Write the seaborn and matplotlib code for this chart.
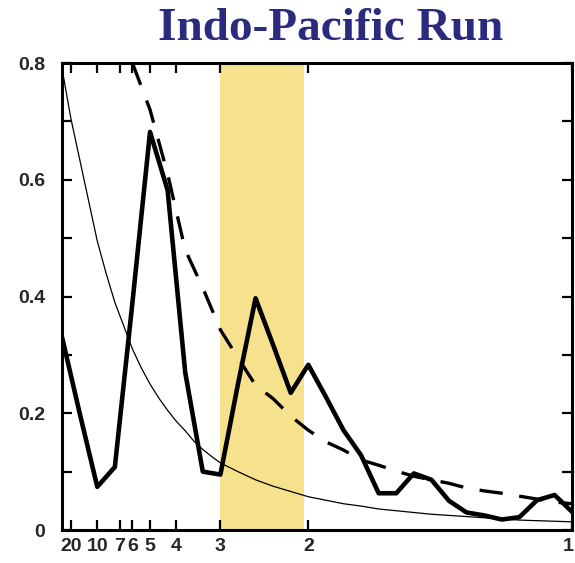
import numpy as np
import pandas as pd
import matplotlib
matplotlib.use("Agg")
import matplotlib.pyplot as plt
import matplotlib.transforms as mtransforms
import seaborn as sns

# Spectral frequency grid (cycles per year), 30 harmonics
freq = np.arange(1, 31) / 30

# Power spectrum of the index
power = [0.33, 0.20, 0.074, 0.108, 0.39, 0.682, 0.582, 0.27, 0.10, 0.095,
         0.25, 0.397, 0.317, 0.235, 0.283, 0.228, 0.171, 0.128, 0.063, 0.063,
         0.097, 0.086, 0.05, 0.03, 0.025, 0.018, 0.022, 0.051, 0.06, 0.031]

# Red-noise background spectrum (finer sampling at low frequencies)
red_freq = np.concatenate([np.arange(2, 21) / 60, np.arange(11, 31) / 30])
red_noise = [0.79, 0.705, 0.635, 0.565, 0.495, 0.44, 0.39, 0.35, 0.31, 0.278,
             0.25, 0.226, 0.205, 0.186, 0.17, 0.152, 0.138, 0.126, 0.115,
             0.10, 0.086, 0.075, 0.066, 0.057, 0.051, 0.045, 0.041, 0.036, 0.033,
             0.030, 0.027, 0.025, 0.023, 0.021, 0.019, 0.017, 0.016, 0.015, 0.014]

# Significance level (from the 5th harmonic on; above the frame before that)
signif_freq = freq[4:]
signif = [0.80, 0.72, 0.61, 0.48, 0.415, 0.343, 0.295, 0.248, 0.225, 0.195,
          0.171, 0.151, 0.137, 0.12, 0.111, 0.101, 0.092, 0.086, 0.08, 0.072,
          0.067, 0.063, 0.058, 0.053, 0.048, 0.045]

# Period axis labels (years) and the highlighted 2-3 year band
period_ticks = [20, 10, 7, 6, 5, 4, 3, 2, 1]
band_periods = (3.0, 2.03)
y_ticks = [0, 0.2, 0.4, 0.6, 0.8]
y_labels = ["0", "0.2", "0.4", "0.6", "0.8"]

sns.set_style("ticks")
plt.rcParams["font.family"] = ["Liberation Sans", "DejaVu Sans"]

fig = plt.figure(figsize=(5.75, 5.63), dpi=100)
ax = fig.add_axes([0.108, 0.0586, 0.887, 0.8294])

ax.axvspan(1 / band_periods[0], 1 / band_periods[1], color="#F6E18C", lw=0, zorder=0)

df_p = pd.DataFrame({"f": freq, "v": power})
df_r = pd.DataFrame({"f": red_freq, "v": red_noise})
df_s = pd.DataFrame({"f": signif_freq, "v": signif})

sns.lineplot(data=df_r, x="f", y="v", ax=ax, color="black", lw=0.9, zorder=2)
sns.lineplot(data=df_s, x="f", y="v", ax=ax, color="black", lw=2.4, zorder=3)
ax.lines[-1].set_dashes([7, 5])
sns.lineplot(data=df_p, x="f", y="v", ax=ax, color="black", lw=3.3, zorder=4)

ax.set_xlim(1 / 30, 1)
ax.set_ylim(0, 0.8)

tick_freq = [1 / p for p in period_ticks]
ax.set_xticks(tick_freq)
ax.set_xticklabels([str(p) for p in period_ticks], fontsize=14, fontweight="bold")
ax.set_yticks(y_ticks)
ax.set_yticklabels(y_labels, fontsize=14, fontweight="bold")
ax.set_yticks(np.arange(0.1, 0.8, 0.2), minor=True)

ax.tick_params(axis="both", which="both", direction="in", length=7, width=1.6,
               top=True, right=True, color="black")
ax.tick_params(axis="x", pad=6)
ax.tick_params(axis="y", pad=12)
ax.set_xlabel("")
ax.set_ylabel("")
for s in ax.spines.values():
    s.set_linewidth(2.2)
    s.set_color("black")

# keep the last period label inside the figure edge
last = ax.get_xticklabels()[-1]
last.set_transform(last.get_transform() +
                   mtransforms.ScaledTranslation(-4 / 100, 0, fig.dpi_scale_trans))

fig.text(0.575, 0.948, "Indo-Pacific Run", ha="center", va="center",
         fontsize=34, fontweight="bold", color="#2A2A7E",
         family=["Liberation Serif", "DejaVu Serif"])

fig.savefig("out.png", dpi=100)
